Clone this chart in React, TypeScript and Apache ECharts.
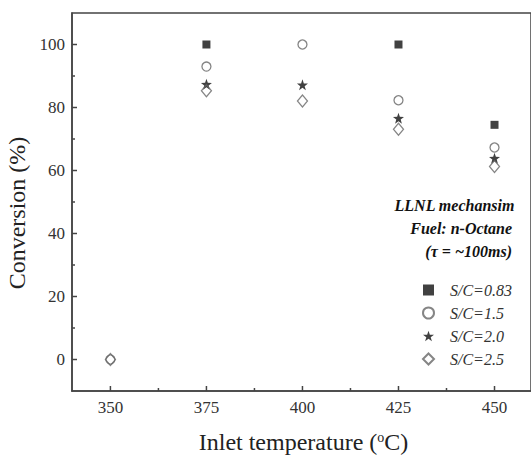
import React, { useEffect, useRef } from "react";
import * as echarts from "echarts";

const temps = [350, 375, 400, 425, 450];
const seriesNames = ["S/C=0.83", "S/C=1.5", "S/C=2.0", "S/C=2.5"];
const sc083 = [null, 100, null, 100, 74.5];
const sc15 = [0, 93, 100, 82.3, 67.3];
const sc20 = [null, 87.4, 87.2, 76.6, 63.9];
const sc25 = [0, 85.3, 82.1, 73.1, 61.3];
const xMajor = [350, 375, 400, 425, 450];
const xMinor = [362.5, 387.5, 412.5, 437.5];
const yMajor = [0, 20, 40, 60, 80, 100];
const yMinor = [10, 30, 50, 70, 90];
const notes = ["LLNL mechansim", "Fuel: n-Octane", "(τ = ~100ms)"];

const X_MIN = 340;
const X_MAX = 459.5;
const Y_MIN = -10;
const Y_MAX = 110;

const FONT = "Liberation Serif";
const AX = "#444";
const STAR =
  "path://M0,-10 L2.35,-3.24 L9.51,-3.09 L3.8,1.24 L5.88,8.09 L0,4 L-5.88,8.09 L-3.8,1.24 L-9.51,-3.09 L-2.35,-3.24 Z";

function pairs(vals: (number | null)[]) {
  const out: [number, number][] = [];
  vals.forEach((v, i) => {
    if (v !== null) out.push([temps[i], v]);
  });
  return out;
}

type Tick = { v: number; axis: "x" | "y"; len: number };
const ticks: Tick[] = [
  ...xMajor.map((v) => ({ v, axis: "x" as const, len: 5 })),
  ...xMinor.map((v) => ({ v, axis: "x" as const, len: 3 })),
  ...yMajor.map((v) => ({ v, axis: "y" as const, len: 5 })),
  ...yMinor.map((v) => ({ v, axis: "y" as const, len: 3 })),
];

const labelStyle = { fontFamily: FONT, fontSize: 17, color: "#333" };

export default function App() {
  const ref = useRef<HTMLDivElement>(null);
  useEffect(() => {
    document.body.style.margin = "0";
    const chart = echarts.init(ref.current!, null, { renderer: "svg" });
    const seriesDefs = [
      { vals: sc083, symbol: "rect", size: 8, style: { color: "#111", borderWidth: 0 } },
      { vals: sc15, symbol: "circle", size: 9, style: { color: "rgba(255,255,255,0)", borderColor: "#666", borderWidth: 1.3 } },
      { vals: sc20, symbol: STAR, size: 11, style: { color: "#111", borderWidth: 0 } },
      { vals: sc25, symbol: "diamond", size: [10, 12], style: { color: "rgba(255,255,255,0)", borderColor: "#666", borderWidth: 1.3 } },
    ];
    const scatter = seriesDefs.map((d, i) => ({
      type: "scatter",
      name: seriesNames[i],
      data: pairs(d.vals),
      symbol: d.symbol,
      symbolSize: d.size,
      itemStyle: d.style,
      z: 2 + i,
    }));
    const option: any = {
      animation: false,
      backgroundColor: "#fff",
      textStyle: { fontFamily: FONT },
      grid: {
        left: 72,
        right: 0,
        top: 13,
        bottom: 65,
        show: true,
        borderColor: AX,
        borderWidth: 1.5,
        containLabel: false,
        outerBoundsMode: "none",
      },
      xAxis: {
        type: "value",
        min: X_MIN,
        max: X_MAX,
        position: "bottom",
        name: "Inlet temperature ({sup|o}C)",
        nameLocation: "middle",
        nameGap: 39,
        nameTextStyle: {
          fontFamily: FONT,
          fontSize: 24,
          color: "#222",
          padding: [0, 0, 0, 4],
          rich: {
            sup: { fontFamily: FONT, fontSize: 14, verticalAlign: "top", color: "#222", padding: [0, 0, 10, 0] },
          },
        },
        axisLine: { show: true, onZero: false, lineStyle: { color: AX, width: 1.5 } },
        axisTick: { show: false },
        axisLabel: { customValues: xMajor, margin: 8, ...labelStyle },
        splitLine: { show: false },
      },
      yAxis: {
        type: "value",
        min: Y_MIN,
        max: Y_MAX,
        position: "left",
        name: "Conversion (%)",
        nameLocation: "middle",
        nameGap: 38,
        nameTextStyle: { fontFamily: FONT, fontSize: 24, color: "#222", padding: [0, 22, 0, 0] },
        axisLine: { show: true, onZero: false, lineStyle: { color: AX, width: 1.5 } },
        axisTick: { show: false },
        axisLabel: { customValues: yMajor, margin: 7, ...labelStyle },
        splitLine: { show: false },
      },
      legend: {
        orient: "vertical",
        left: 417,
        top: 277,
        itemWidth: 11,
        itemHeight: 11,
        itemGap: 7,
        data: seriesNames,
        textStyle: {
          fontFamily: FONT,
          fontStyle: "italic",
          fontSize: 16,
          color: "#333",
          padding: [0, 0, 0, 11],
        },
      },
      graphic: notes.map((t, i) => ({
        type: "text",
        right: i === 0 ? 16 : 19,
        top: 197 + i * 23,
        style: {
          text: t,
          fontFamily: FONT,
          fontStyle: "italic",
          fontWeight: "bold",
          fontSize: 16,
          fill: "#111",
        },
      })),
      series: scatter,
    };
    chart.setOption(option);
    // ticks placed through the axes' own scales
    const tickGraphics = ticks.map((t) => {
      if (t.axis === "x") {
        const p = chart.convertToPixel({ gridIndex: 0 }, [t.v, Y_MIN]) as number[];
        return {
          type: "line",
          z: 100,
          silent: true,
          shape: { x1: p[0], y1: p[1], x2: p[0], y2: p[1] - t.len },
          style: { stroke: AX, lineWidth: 1.5 },
        };
      }
      const p = chart.convertToPixel({ gridIndex: 0 }, [X_MIN, t.v]) as number[];
      return {
        type: "line",
        z: 100,
        silent: true,
        shape: { x1: p[0], y1: p[1], x2: p[0] + t.len, y2: p[1] },
        style: { stroke: AX, lineWidth: 1.5 },
      };
    });
    chart.setOption({ graphic: [...option.graphic, ...tickGraphics] });
    return () => chart.dispose();
  }, []);
  return <div ref={ref} style={{ width: 531, height: 456 }} />;
}
